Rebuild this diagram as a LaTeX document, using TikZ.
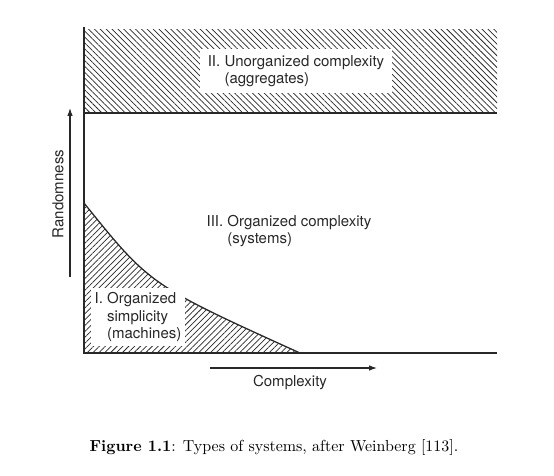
\documentclass[tikz,border=0pt]{standalone}
\usepackage{fontspec}
\newfontfamily\helv{TeX Gyre Heros}
\usetikzlibrary{arrows.meta, patterns.meta}
\usepackage{xcolor}
\definecolor{ink}{RGB}{40,40,40}

\begin{document}
\begin{tikzpicture}[x=0.022cm,y=-0.022cm,
  lbl/.style={font=\helv\fontsize{9.4}{10.8}\selectfont,text=ink,
              align=left,inner xsep=3pt,inner ysep=3pt},
  ax/.style={ink,line width=0.8pt},
  arr/.style={-{Latex[length=5pt,width=3.5pt]},ink,line width=0.7pt},
  hatch/.style={pattern={Lines[angle=#1,distance=2.6pt,line width=0.45pt]},pattern color=ink}
]
\useasboundingbox (0,0) rectangle (554,475);
% hatched regions
\fill[hatch=-45] (84,29) rectangle (497,113);
\fill[hatch=45] (84,203) .. controls (150,285) .. (300,353) -- (84,353) -- cycle;
% axes and borders
\coordinate (top) at (84,27);
\coordinate (o) at (84,353);
\coordinate (xend) at (497,353);
\coordinate (bl) at (84,113);
\coordinate (br) at (497,113);
\coordinate (c0) at (84,203);
\coordinate (c1) at (300,353);
\draw[ax] (top) -- (o) -- (xend);
\draw[ax] (bl) -- (br);
\draw[ax] (c0) .. controls (150,285) .. (c1);
% region labels
\node[lbl,fill=white,inner xsep=5pt,inner ysep=4pt] (unorg) at (296,71)
  {II.~Unorganized complexity\\\hphantom{II.~}(aggregates)};
\node[lbl] (orgcx) at (289,231)
  {III.~Organized complexity\\\hphantom{III.~}(systems)};
\node[lbl,fill=white,inner xsep=2pt] (orgsp) at (138,317)
  {I.~Organized\\\hphantom{I.~}simplicity\\\hphantom{I.~}(machines)};
% axis arrows
\coordinate (r0) at (70,277);
\coordinate (r1) at (70,108);
\coordinate (k0) at (210,368);
\coordinate (k1) at (377,368);
\draw[arr] (r0) -- (r1);
\draw[arr] (k0) -- (k1);
\node[lbl,rotate=90] (rand) at (58,194) {Randomness};
\node[lbl] (cplx) at (290,383) {Complexity};
% caption
\node (cap) at (274,447) {\textbf{Figure 1.1}: Types of systems, after Weinberg [113].};
\end{tikzpicture}
\end{document}
